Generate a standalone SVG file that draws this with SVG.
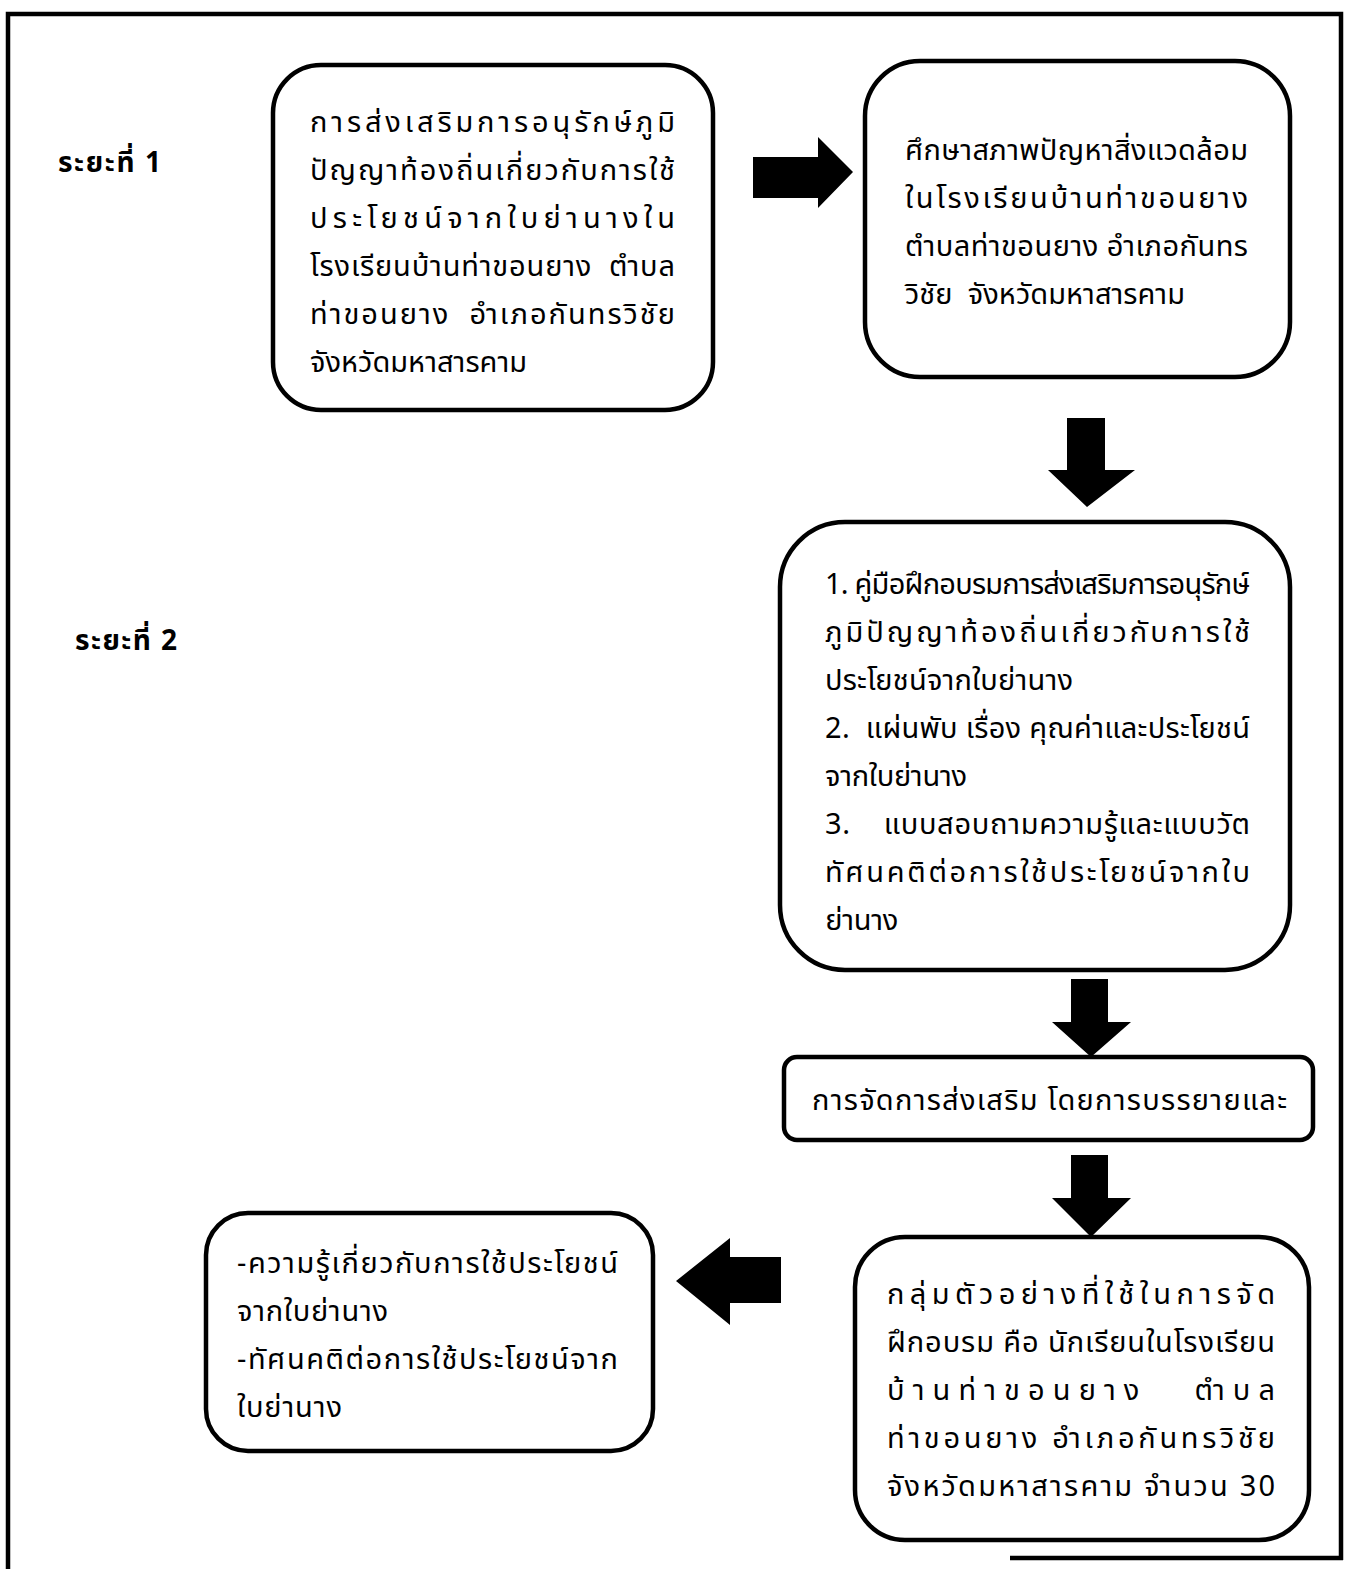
<svg xmlns="http://www.w3.org/2000/svg" width="1356" height="1569" viewBox="0 0 1356 1569">
<style>
.box{fill:#fff;stroke:#000;stroke-width:4.5}
.frame{fill:none;stroke:#000;stroke-width:4.5}
.t{font-family:"Noto Sans Thai","Noto Sans","DejaVu Sans",sans-serif;font-size:29px;fill:#000;white-space:pre}
.lbl{font-family:"Noto Sans Thai","Noto Sans","DejaVu Sans",sans-serif;font-size:28px;font-weight:bold;fill:#000}
.arr{fill:#000}
</style>
<rect width="1356" height="1569" fill="#fff"/>
<g id="frame">
<path class="frame" d="M8,1569 L8,14 L1341,14 L1341,1560"/>
<line class="frame" x1="1010" y1="1558" x2="1343" y2="1558"/>
</g>
<g id="labels">
<text class="lbl" x="58" y="172" textLength="103" lengthAdjust="spacing">ระยะที่ 1</text>
<text class="lbl" x="75" y="650" textLength="102" lengthAdjust="spacing">ระยะที่ 2</text>
</g>
<g id="connectors">
<polygon class="arr" points="753,157 818,157 818,137 853,172 818,208 818,198 753,198"/>
<polygon class="arr" points="1067,418 1105,418 1105,470 1135,470 1087,507 1048,470 1067,470"/>
<polygon class="arr" points="1071,979 1108,979 1108,1022 1131,1022 1091,1057 1052,1022 1071,1022"/>
<polygon class="arr" points="1071,1155 1108,1155 1108,1198 1131,1198 1091,1237 1052,1198 1071,1198"/>
<polygon class="arr" points="781,1257 730,1257 730,1238 676,1281 730,1325 730,1303 781,1303"/>
</g>
<g id="n1">
<rect class="box" x="273" y="65" width="440" height="345" rx="48"/>
<text class="t" x="310" y="132" textLength="365" lengthAdjust="spacing">การส่งเสริมการอนุรักษ์ภูมิ</text>
<text class="t" x="310" y="180" textLength="365" lengthAdjust="spacing">ปัญญาท้องถิ่นเกี่ยวกับการใช้</text>
<text class="t" x="310" y="228" textLength="365" lengthAdjust="spacing">ประโยชน์จากใบย่านางใน</text>
<text class="t" x="310" y="276" textLength="365" lengthAdjust="spacing">โรงเรียนบ้านท่าขอนยาง  ตำบล</text>
<text class="t" x="310" y="324" textLength="365" lengthAdjust="spacing">ท่าขอนยาง  อำเภอกันทรวิชัย</text>
<text class="t" x="310" y="372" textLength="217" lengthAdjust="spacing">จังหวัดมหาสารคาม</text>
</g>
<g id="n2">
<rect class="box" x="865" y="61" width="425" height="316" rx="55"/>
<text class="t" x="905" y="160" textLength="343" lengthAdjust="spacing">ศึกษาสภาพปัญหาสิ่งแวดล้อม</text>
<text class="t" x="905" y="208" textLength="343" lengthAdjust="spacing">ในโรงเรียนบ้านท่าขอนยาง</text>
<text class="t" x="905" y="256" textLength="343" lengthAdjust="spacing">ตำบลท่าขอนยาง อำเภอกันทร</text>
<text class="t" x="905" y="304" textLength="280" lengthAdjust="spacing">วิชัย  จังหวัดมหาสารคาม</text>
</g>
<g id="n3">
<rect class="box" x="780" y="522" width="510" height="448" rx="65"/>
<text class="t" x="825" y="594" textLength="425" lengthAdjust="spacing">1. คู่มือฝึกอบรมการส่งเสริมการอนุรักษ์</text>
<text class="t" x="825" y="642" textLength="425" lengthAdjust="spacing">ภูมิปัญญาท้องถิ่นเกี่ยวกับการใช้</text>
<text class="t" x="825" y="690" textLength="248" lengthAdjust="spacing">ประโยชน์จากใบย่านาง</text>
<text class="t" x="825" y="738" textLength="425" lengthAdjust="spacing">2.  แผ่นพับ เรื่อง คุณค่าและประโยชน์</text>
<text class="t" x="825" y="786" textLength="142" lengthAdjust="spacing">จากใบย่านาง</text>
<text class="t" x="825" y="834" textLength="425" lengthAdjust="spacing">3.    แบบสอบถามความรู้และแบบวัต</text>
<text class="t" x="825" y="882" textLength="425" lengthAdjust="spacing">ทัศนคติต่อการใช้ประโยชน์จากใบ</text>
<text class="t" x="825" y="930" textLength="73" lengthAdjust="spacing">ย่านาง</text>
</g>
<g id="n4">
<rect class="box" x="784" y="1057" width="529" height="83" rx="13"/>
<text class="t" x="812" y="1110" textLength="475" lengthAdjust="spacing">การจัดการส่งเสริม โดยการบรรยายและ</text>
</g>
<g id="n5">
<rect class="box" x="855" y="1237" width="454" height="303" rx="50"/>
<text class="t" x="887" y="1304" textLength="388" lengthAdjust="spacing">กลุ่มตัวอย่างที่ใช้ในการจัด</text>
<text class="t" x="887" y="1352" textLength="388" lengthAdjust="spacing">ฝึกอบรม คือ นักเรียนในโรงเรียน</text>
<text class="t" x="887" y="1400" textLength="388" lengthAdjust="spacing">บ้านท่าขอนยาง   ตำบล</text>
<text class="t" x="887" y="1448" textLength="388" lengthAdjust="spacing">ท่าขอนยาง อำเภอกันทรวิชัย</text>
<text class="t" x="887" y="1496" textLength="388" lengthAdjust="spacing">จังหวัดมหาสารคาม จำนวน 30</text>
</g>
<g id="n6">
<rect class="box" x="206" y="1213" width="447" height="238" rx="42"/>
<text class="t" x="237" y="1273" textLength="381" lengthAdjust="spacing">-ความรู้เกี่ยวกับการใช้ประโยชน์</text>
<text class="t" x="237" y="1321" textLength="151" lengthAdjust="spacing">จากใบย่านาง</text>
<text class="t" x="237" y="1369" textLength="381" lengthAdjust="spacing">-ทัศนคติต่อการใช้ประโยชน์จาก</text>
<text class="t" x="237" y="1417" textLength="105" lengthAdjust="spacing">ใบย่านาง</text>
</g>
</svg>
